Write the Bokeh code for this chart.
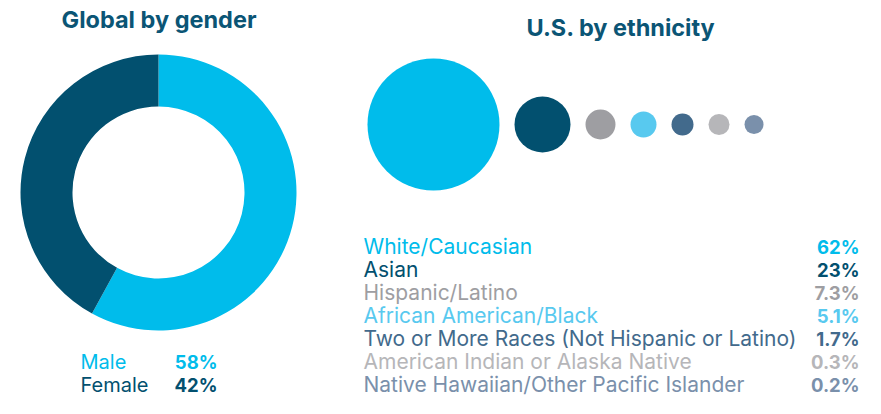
import math
from bokeh.plotting import figure
from bokeh.models import Range1d
from bokeh.core.properties import value
from bokeh.embed import file_html
from bokeh.resources import INLINE

# ---------------- data ----------------
gender_labels = ["Male", "Female"]
gender_values = [58, 42]
gender_value_labels = ["58%", "42%"]

eth_labels = [
    "White/Caucasian",
    "Asian",
    "Hispanic/Latino",
    "African American/Black",
    "Two or More Races (Not Hispanic or Latino)",
    "American Indian or Alaska Native",
    "Native Hawaiian/Other Pacific Islander",
]
eth_values = [62, 23, 7.3, 5.1, 1.7, 0.3, 0.2]
eth_value_labels = ["62%", "23%", "7.3%", "5.1%", "1.7%", "0.3%", "0.2%"]

# ---------------- styles ----------------
gender_colors = ["#00bceb", "#02506f"]
eth_colors = ["#00bceb", "#02506f", "#9e9ea2", "#58c9ef", "#426a8c", "#b6b6b9", "#7a90ab"]
bubble_radii = [66, 28, 15, 13, 11, 10.5, 9.5]   # px, visual sizes
bubble_gap = 15
TITLE_COLOR = "#0b5575"
FONT = "Inter"

W, H = 865, 398


def Y(py):
    # pixel y (from top) -> data y
    return H - py


p = figure(width=W, height=H, output_backend="svg", toolbar_location=None,
           x_range=Range1d(0, W), y_range=Range1d(0, H),
           min_border=0, outline_line_color=None)
p.axis.visible = False
p.grid.visible = False
p.background_fill_color = "white"

# ---------------- titles ----------------
p.text(x=[158.5], y=[Y(18.5)], text=["Global by gender"], text_align="center",
       text_baseline="middle", text_font=value(FONT), text_font_style="bold",
       text_font_size="23.5px", text_color=TITLE_COLOR)
p.text(x=[620.5], y=[Y(26.5)], text=["U.S. by ethnicity"], text_align="center",
       text_baseline="middle", text_font=value(FONT), text_font_style="bold",
       text_font_size="23.5px", text_color=TITLE_COLOR)

# ---------------- donut ----------------
total = sum(gender_values)
start = math.pi / 2
starts, ends = [], []
for v in gender_values:
    end = start - 2 * math.pi * v / total
    starts.append(start)
    ends.append(end)
    start = end
p.annular_wedge(x=158, y=Y(192), inner_radius=86, outer_radius=138,
                start_angle=starts, end_angle=ends, direction="clock",
                fill_color=gender_colors, line_color=None)

# ---------------- bubbles ----------------
xs = []
for i, r in enumerate(bubble_radii):
    if i == 0:
        xs.append(367 + r)
    else:
        xs.append(xs[-1] + bubble_radii[i - 1] + bubble_gap + r)
p.circle(x=xs, y=[Y(124)] * len(xs), radius=bubble_radii, fill_color=eth_colors,
         line_color=None)

# ---------------- legends ----------------
ROW0, ROWSTEP = 246, 23
for i, (lab, vl) in enumerate(zip(eth_labels, eth_value_labels)):
    cy = ROW0 + i * ROWSTEP
    p.text(x=[363], y=[Y(cy)], text=[lab], text_align="left", text_baseline="middle",
           text_font=value(FONT), text_font_size="21px", text_color=eth_colors[i])
    p.text(x=[859], y=[Y(cy)], text=[vl], text_align="right", text_baseline="middle",
           text_font=value(FONT), text_font_style="bold", text_font_size="18.5px",
           text_color=eth_colors[i])

for i, (lab, vl) in enumerate(zip(gender_labels, gender_value_labels)):
    cy = ROW0 + (5 + i) * ROWSTEP
    p.text(x=[80], y=[Y(cy)], text=[lab], text_align="left", text_baseline="middle",
           text_font=value(FONT), text_font_size="20px", text_color=gender_colors[i])
    p.text(x=[217], y=[Y(cy)], text=[vl], text_align="right", text_baseline="middle",
           text_font=value(FONT), text_font_style="bold", text_font_size="18.5px",
           text_color=gender_colors[i])

open("out.html", "w").write(file_html(p, INLINE))
